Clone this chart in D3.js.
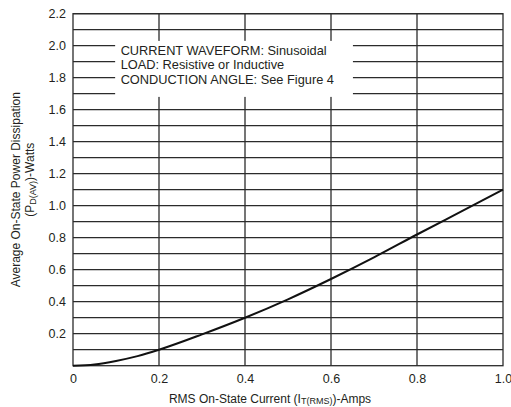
<!DOCTYPE html>
<html lang="en">
<head>
  <meta charset="UTF-8">
  <title>Average On-State Power Dissipation vs RMS On-State Current</title>
  <script src="https://d3js.org/d3.v7.min.js"></script>
  <style>
    body { margin: 0; background: #fff; }
    text { font-family: "Liberation Sans", Arial, sans-serif; fill: #231f20; }
  </style>
</head>
<body>
  <div id="chart"></div>

  <script>
    // data
    const currentAmps = [0, 0.05, 0.1, 0.15, 0.2, 0.3, 0.4, 0.5, 0.6, 0.7, 0.8, 0.9, 1.0];
    const powerWatts = [0, 0.008, 0.03, 0.06, 0.1, 0.196, 0.3, 0.415, 0.542, 0.677, 0.82, 0.96, 1.1];

    const xTicks = [0, 0.2, 0.4, 0.6, 0.8, 1.0];
    const yTicks = [0.2, 0.4, 0.6, 0.8, 1.0, 1.2, 1.4, 1.6, 1.8, 2.0, 2.2];
    const yGrid = d3.range(1, 23).map(i => i / 10);

    const noteLines = [
      "CURRENT WAVEFORM: Sinusoidal",
      "LOAD: Resistive or Inductive",
      "CONDUCTION ANGLE: See Figure 4"
    ];
    const noteBox = { x0: 0.098, x1: 0.651, y0: 1.68, y1: 2.03 };

    const margin = { top: 13.7, right: 8, bottom: 41.3, left: 73 },
      width = 511 - margin.left - margin.right,
      height = 407 - margin.top - margin.bottom;

    const svg = d3.select("#chart")
      .append("svg")
      .attr("width", 511)
      .attr("height", 407)
      .append("g")
      .attr("transform", `translate(${margin.left},${margin.top})`);

    const x = d3.scaleLinear().domain([0, 1]).range([0, width]);
    const y = d3.scaleLinear().domain([0, 2.2]).range([height, 0]);

    const lineColor = "#2b2b2b";

    // horizontal grid every 0.1
    svg.append("g")
      .selectAll("line")
      .data(yGrid)
      .enter()
      .append("line")
      .attr("x1", 0)
      .attr("x2", width)
      .attr("y1", d => y(d))
      .attr("y2", d => y(d))
      .attr("stroke", lineColor)
      .attr("stroke-width", 1.3);

    // vertical grid every 0.2
    svg.append("g")
      .selectAll("line")
      .data(xTicks.slice(1, -1))
      .enter()
      .append("line")
      .attr("x1", d => x(d))
      .attr("x2", d => x(d))
      .attr("y1", 0)
      .attr("y2", height)
      .attr("stroke", lineColor)
      .attr("stroke-width", 1.3);

    // white box for the note, covers the grid
    svg.append("rect")
      .attr("x", x(noteBox.x0))
      .attr("y", y(noteBox.y1))
      .attr("width", x(noteBox.x1) - x(noteBox.x0))
      .attr("height", y(noteBox.y0) - y(noteBox.y1))
      .attr("fill", "#fff");

    svg.append("g")
      .selectAll("text")
      .data(noteLines)
      .enter()
      .append("text")
      .attr("x", x(noteBox.x0) + 5.5)
      .attr("y", (d, i) => 41.3 + i * 14.5)
      .attr("font-size", "12.8px")
      .text(d => d);

    // frame
    svg.append("rect")
      .attr("x", 0)
      .attr("y", 0)
      .attr("width", width)
      .attr("height", height)
      .attr("fill", "none")
      .attr("stroke", lineColor)
      .attr("stroke-width", 1.3);

    // curve
    const line = d3.line()
      .x((d, i) => x(currentAmps[i]))
      .y(d => y(d))
      .curve(d3.curveMonotoneX);

    svg.append("path")
      .datum(powerWatts)
      .attr("d", line)
      .attr("fill", "none")
      .attr("stroke", "#111")
      .attr("stroke-width", 2);

    // axes (labels only, no tick marks)
    const xAxis = svg.append("g")
      .attr("transform", `translate(0,${height})`)
      .call(d3.axisBottom(x).tickValues(xTicks).tickSize(0).tickPadding(8)
        .tickFormat(d => d === 0 ? "0" : d3.format(".1f")(d)));
    xAxis.select(".domain").remove();
    xAxis.selectAll("text").attr("font-size", "12.5px").attr("font-family", null).attr("fill", "#231f20");

    const yAxis = svg.append("g")
      .call(d3.axisLeft(y).tickValues(yTicks).tickSize(0).tickPadding(7)
        .tickFormat(d3.format(".1f")));
    yAxis.select(".domain").remove();
    yAxis.selectAll("text").attr("font-size", "12.5px").attr("font-family", null).attr("fill", "#231f20");

    // x axis title
    const xTitle = svg.append("text")
      .attr("x", 197)
      .attr("y", height + 37)
      .attr("text-anchor", "middle")
      .attr("font-size", "12px");
    xTitle.append("tspan").text("RMS On-State Current (I");
    xTitle.append("tspan").attr("font-size", "9px").attr("dy", 1.5).text("T(RMS)");
    xTitle.append("tspan").attr("dy", -1.5).text(")-Amps");

    // y axis title, two rotated lines
    const yTitle = svg.append("g")
      .attr("transform", `translate(${-margin.left},${y(1.1)}) rotate(-90)`);
    yTitle.append("text")
      .attr("x", 0)
      .attr("y", 20)
      .attr("text-anchor", "middle")
      .attr("font-size", "12px")
      .text("Average On-State Power Dissipation");
    const yTitle2 = yTitle.append("text")
      .attr("x", 10)
      .attr("y", 34)
      .attr("text-anchor", "middle")
      .attr("font-size", "12px");
    yTitle2.append("tspan").text("(P");
    yTitle2.append("tspan").attr("font-size", "9px").attr("dy", 1.5).text("D(AV)");
    yTitle2.append("tspan").attr("dy", -1.5).text(")-Watts");
  </script>
</body>
</html>
